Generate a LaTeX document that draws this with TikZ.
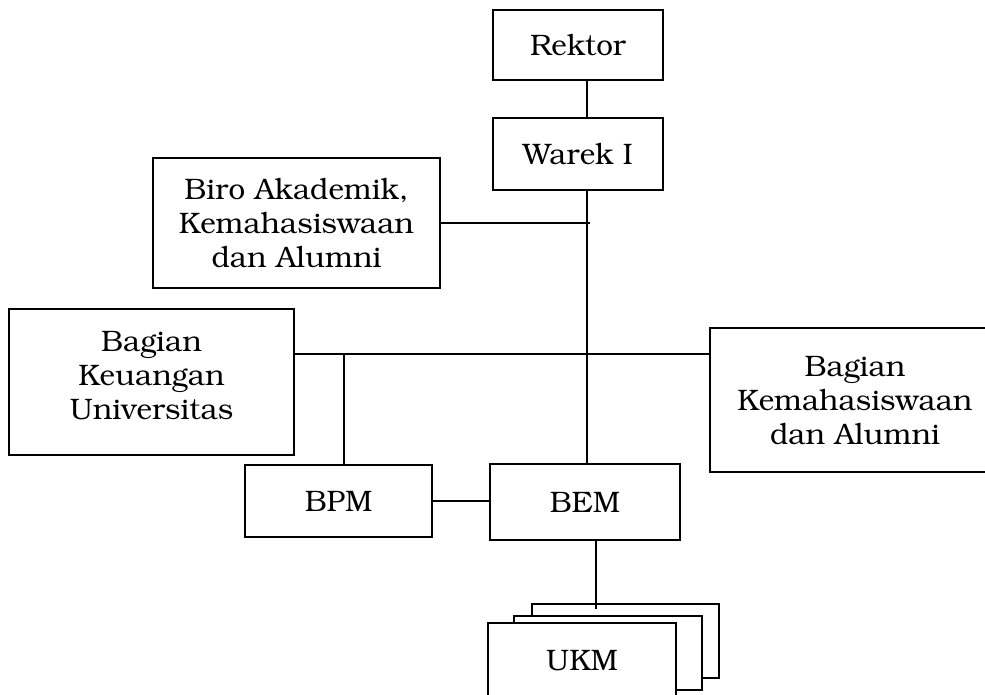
\documentclass[tikz,border=0pt]{standalone}
\usepackage[T1]{fontenc}
\usepackage{bookman}
\usetikzlibrary{positioning}

\begin{document}
\begin{tikzpicture}[x=0.5pt,y=-0.5pt]
\tikzset{
  orgbox/.style={rectangle,draw=black,line width=0.6pt,align=center,inner sep=0pt,fill=white,font=\fontsize{14.8}{17}\selectfont},
  orgedge/.style={draw=black,line width=0.6pt}
}
\useasboundingbox (0,0) rectangle (985,695);
\clip (0,0) rectangle (985,695);
\node[orgbox,minimum width=85pt,minimum height=35pt] (n_rektor) at (578,45) {Rektor};
\node[orgbox,minimum width=85pt,minimum height=36pt] (n_warek) at (578,154) {Warek I};
\node[orgbox,minimum width=143.5pt,minimum height=65pt] (n_biro) at (296.5,223) {Biro Akademik,\\Kemahasiswaan\\dan Alumni};
\node[orgbox,minimum width=142.5pt,minimum height=73pt,text depth=7pt] (n_keu) at (151.5,382) {Bagian\\Keuangan\\Universitas};
\node[orgbox,minimum width=145pt,minimum height=72pt] (n_kema) at (855,400) {Bagian\\Kemahasiswaan\\dan Alumni};
\node[orgbox,minimum width=93.5pt,minimum height=36pt] (n_bpm) at (338.5,501) {BPM};
\node[orgbox,minimum width=95pt,minimum height=38pt] (n_bem) at (585,502) {BEM};
\node[orgbox,minimum width=93.5pt,minimum height=37pt] (n_ukm3) at (625.5,641) {};
\node[orgbox,minimum width=94pt,minimum height=37pt] (n_ukm2) at (608,653) {};
\node[orgbox,minimum width=94pt,minimum height=37pt] (n_ukm1) at (582,660) {UKM};
\coordinate (c_spine) at (587,0);
\coordinate (c_bus) at (0,354);
\coordinate (c_bpm) at (344,354);
\coordinate (c_ukm) at (596,0);
\draw[orgedge] (n_rektor.south -| c_spine) -- (n_warek.north -| c_spine);
\draw[orgedge] (n_warek.south -| c_spine) -- (n_bem.north -| c_spine);
\draw[orgedge] (n_biro.east) -- ([xshift=1.5pt]n_biro.east -| c_spine);
\draw[orgedge] (n_keu.east |- c_bus) -- (n_kema.west |- c_bus);
\draw[orgedge] (c_bpm) -- (c_bpm |- n_bpm.north);
\draw[orgedge] (n_bpm.east) -- (n_bpm.east -| n_bem.west);
\draw[orgedge] (n_bem.south -| c_ukm) -- ([yshift=-3pt]n_ukm3.north -| c_ukm);
\end{tikzpicture}
\end{document}
